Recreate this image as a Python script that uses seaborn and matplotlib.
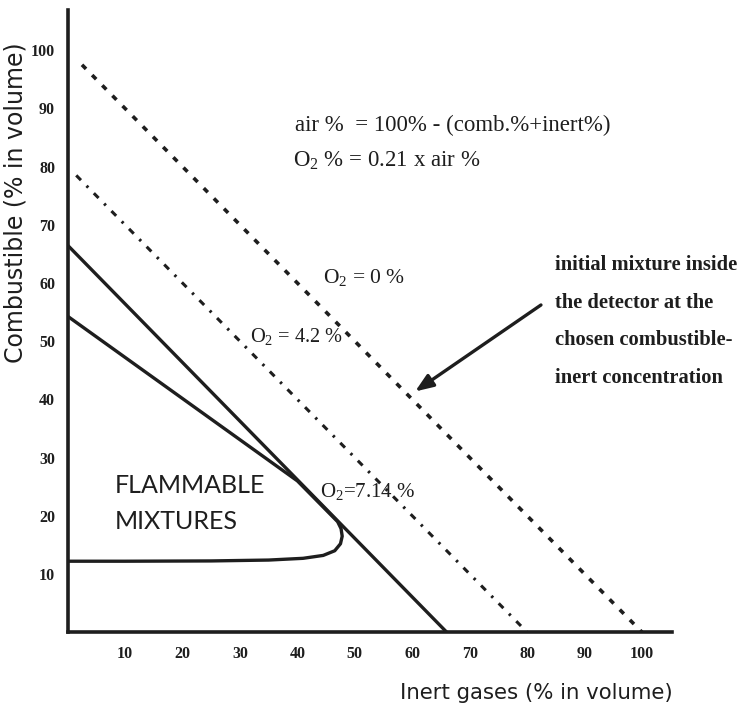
import matplotlib
matplotlib.use("Agg")
import matplotlib.pyplot as plt
import seaborn as sns
import pandas as pd

# ---- data ----
ticks = [10, 20, 30, 40, 50, 60, 70, 80, 90, 100]

o2_0_inert = [2.5, 100]
o2_0_comb = [97.5, 0]

o2_42_inert = [1.5, 80]
o2_42_comb = [78.5, 0]

o2_714_inert = [0, 66]
o2_714_comb = [66.5, 0]

env_inert = [0, 40, 43, 45.5, 47.0, 47.6, 47.8, 47.5, 46.5, 44.5, 41, 35, 25, 10, 0]
env_comb = [54.3, 26, 23, 20.5, 19.0, 17.8, 16.5, 15.2, 14.0, 13.2, 12.7, 12.4, 12.25, 12.2, 12.2]

arrow_tail = (82.8, 56.5)
arrow_head = (60.1, 41.1)

sns.set_theme(style="white")
plt.rcParams['font.family'] = ['DejaVu Sans']
plt.rcParams['mathtext.fontset'] = 'custom'
plt.rcParams['mathtext.rm'] = 'Liberation Serif'
plt.rcParams['mathtext.it'] = 'Liberation Serif:italic'
plt.rcParams['mathtext.bf'] = 'Liberation Serif:bold'

fig = plt.figure(figsize=(7.48, 7.11), dpi=100)
ax = fig.add_axes([0.0904, 0.1108, 0.8079, 0.875])

ink = "#1e1e1e"

sns.lineplot(x=o2_0_inert, y=o2_0_comb, ax=ax, color=ink, lw=2.6,
             linestyle=(0, (1.6, 2.4)), sort=False, estimator=None)
sns.lineplot(x=o2_42_inert, y=o2_42_comb, ax=ax, color=ink, lw=2.2,
             linestyle=(0, (2.2, 2.6, 0.8, 2.6)), sort=False, estimator=None)
sns.lineplot(x=o2_714_inert, y=o2_714_comb, ax=ax, color=ink, lw=2.4,
             sort=False, estimator=None)
sns.lineplot(x=env_inert, y=env_comb, ax=ax, color=ink, lw=2.4,
             sort=False, estimator=None)

ax.set_xlim(0, 105.2)
ax.set_ylim(0, 106.9)
ax.set_xticks(ticks)
ax.set_yticks(ticks)
ax.set_xticklabels([str(t) for t in ticks], fontfamily="Liberation Serif",
                   fontweight="bold", fontsize=11.5, color=ink)
ax.set_yticklabels([str(t) for t in ticks], fontfamily="Liberation Serif",
                   fontweight="bold", fontsize=11.5, color=ink)
ax.tick_params(axis="both", direction="in", length=12, width=2.2, color=ink)
ax.tick_params(axis="x", pad=10)
ax.tick_params(axis="y", pad=9)

for s in ["top", "right"]:
    ax.spines[s].set_visible(False)
for s in ["left", "bottom"]:
    ax.spines[s].set_linewidth(2.6)
    ax.spines[s].set_color(ink)

ax.set_xlabel("Inert gases (% in volume)", fontsize=15.3, color=ink, va="center")
ax.set_ylabel("Combustible (% in volume)", fontsize=17, color=ink, va="center")
ax.xaxis.set_label_coords(0.775, -0.098)
ax.yaxis.set_label_coords(-0.087, 0.691)

serif = "Liberation Serif"
ax.text(0.376, 0.815, "air %  = 100% - (comb.%+inert%)", transform=ax.transAxes,
        fontfamily=serif, fontsize=16.5, color=ink, va="center", ha="left")
ax.text(0.373, 0.758, "O$_2$ % = 0.21 x air %", transform=ax.transAxes,
        fontfamily=serif, fontsize=16.5, color=ink, va="center", ha="left")

ax.text(0.422, 0.570, "O$_2$ = 0 %", transform=ax.transAxes,
        fontfamily=serif, fontsize=15.5, color=ink, va="center", ha="left")
ax.text(0.302, 0.475, "O$_2$ = 4.2 %", transform=ax.transAxes,
        fontfamily=serif, fontsize=14.7, color=ink, va="center", ha="left")
ax.text(0.418, 0.226, "O$_2$=7.14 %", transform=ax.transAxes,
        fontfamily=serif, fontsize=15, color=ink, va="center", ha="left")

ax.text(0.078, 0.236, "FLAMMABLE", transform=ax.transAxes,
        fontfamily="Lato", fontsize=18, color=ink, va="center", ha="left")
ax.text(0.078, 0.178, "MIXTURES", transform=ax.transAxes,
        fontfamily="Lato", fontsize=18, color=ink, va="center", ha="left")

note = ["initial mixture inside", "the detector at the",
        "chosen combustible-", "inert concentration"]
for i, line in enumerate(note):
    ax.text(0.807, 0.590 - i * 0.0605, line, transform=ax.transAxes,
            fontfamily=serif, fontweight="bold", fontsize=14.8, color=ink,
            va="center", ha="left", clip_on=False)

ax.annotate("", xy=arrow_head, xytext=arrow_tail,
            arrowprops=dict(arrowstyle="-|>,head_length=0.9,head_width=0.35",
                            color=ink, lw=2.4))

fig.savefig("out.png", dpi=100, facecolor="white")
